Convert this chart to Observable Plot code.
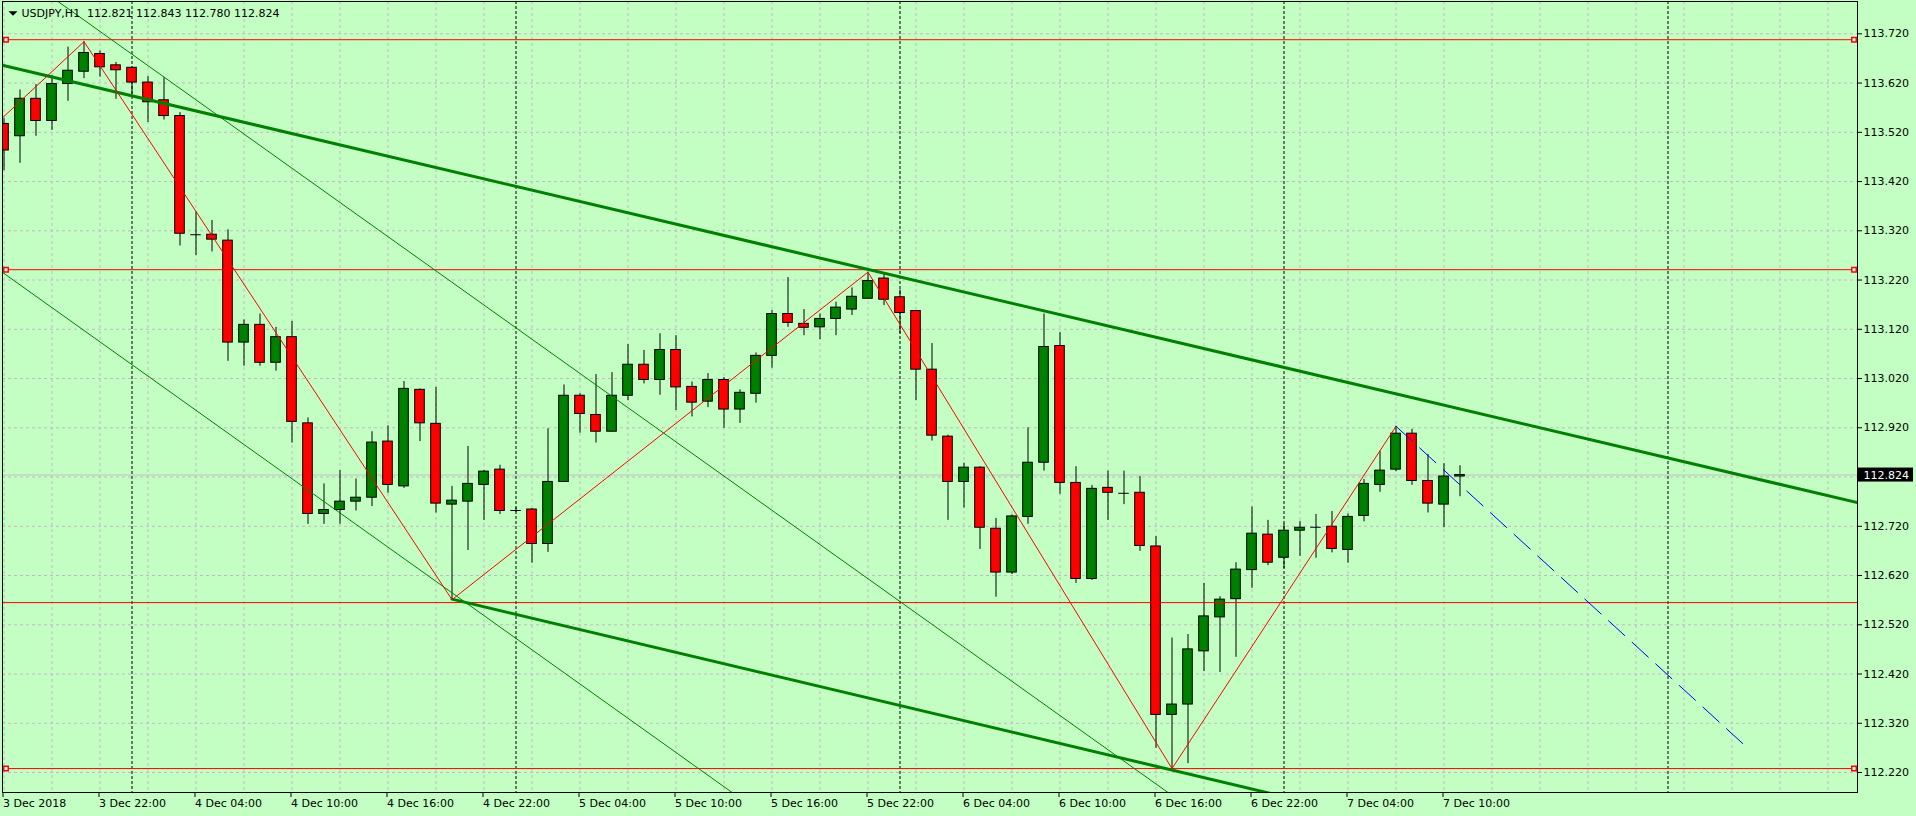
<!DOCTYPE html>
<html><head><meta charset="utf-8">
<script src="https://cdn.jsdelivr.net/npm/d3@7"></script>
<script src="https://cdn.jsdelivr.net/npm/@observablehq/plot@0.6"></script>
<style>html,body{margin:0;padding:0;background:#c3ffc3;overflow:hidden}</style>
</head><body><div id="chart"></div>
<script>
// ---- data (H1 bars, index 0 = 3 Dec 2018 16:00) ----
const opens = [113.537,113.512,113.588,113.543,113.618,113.643,113.679,113.656,113.651,113.621,113.585,113.553,113.312,113.312,113.300,113.093,113.129,113.052,113.104,112.929,
112.745,112.753,112.770,112.778,112.892,112.801,112.997,112.928,112.764,112.770,112.804,112.835,112.752,112.754,112.684,112.810,112.985,112.946,112.912,112.985,
113.048,113.017,113.078,113.003,112.973,113.017,112.957,112.989,113.066,113.151,113.131,113.124,113.141,113.160,113.182,113.223,113.185,113.157,113.038,112.902,
112.810,112.839,112.715,112.626,112.739,112.849,113.086,112.808,112.613,112.798,112.787,112.788,112.679,112.337,112.358,112.466,112.535,112.572,112.631,112.703,
112.656,112.711,112.718,112.719,112.672,112.741,112.804,112.835,112.908,112.812,112.764,112.821];
const highs = [113.548,113.606,113.617,113.635,113.693,113.704,113.685,113.662,113.652,113.633,113.631,113.560,113.358,113.341,113.322,113.139,113.151,113.124,113.136,112.940,
112.806,112.833,112.816,112.912,112.924,113.014,112.999,113.002,112.801,112.882,112.833,112.844,112.758,112.756,112.918,113.007,112.989,113.028,113.032,113.089,
113.077,113.111,113.107,113.013,113.030,113.022,112.997,113.072,113.158,113.225,113.160,113.151,113.175,113.204,113.236,113.233,113.200,113.157,113.091,112.905,
112.848,112.841,112.736,112.743,112.920,113.151,113.113,112.841,112.803,112.832,112.832,112.821,112.699,112.493,112.500,112.604,112.577,112.646,112.759,112.732,
112.725,112.730,112.744,112.750,112.745,112.815,112.872,112.923,112.917,112.866,112.847,112.843];
const lows = [113.442,113.457,113.512,113.524,113.583,113.629,113.632,113.587,113.597,113.540,113.545,113.289,113.270,113.277,113.055,113.045,113.045,113.035,112.889,112.724,
112.724,112.724,112.751,112.760,112.787,112.797,112.892,112.747,112.571,112.671,112.732,112.744,112.748,112.645,112.667,112.810,112.909,112.889,112.912,112.975,
113.009,112.986,112.955,112.942,112.961,112.919,112.929,112.970,113.041,113.124,113.107,113.099,113.107,113.148,113.182,113.168,113.111,112.975,112.893,112.732,
112.757,112.673,112.576,112.622,112.724,112.832,112.785,112.604,112.610,112.732,112.764,112.669,112.269,112.228,112.238,112.425,112.423,112.454,112.594,112.640,
112.634,112.659,112.655,112.666,112.645,112.729,112.789,112.831,112.803,112.747,112.717,112.780];
const closes = [113.483,113.588,113.543,113.618,113.645,113.681,113.652,113.646,113.621,113.581,113.553,113.314,113.312,113.302,113.093,113.129,113.052,113.104,112.932,112.745,
112.753,112.770,112.778,112.890,112.804,112.999,112.929,112.766,112.772,112.806,112.831,112.751,112.752,112.684,112.810,112.985,112.948,112.912,112.985,113.048,
113.017,113.078,113.002,112.971,113.017,112.957,112.991,113.066,113.151,113.133,113.123,113.141,113.164,113.186,113.218,113.180,113.153,113.038,112.904,112.810,
112.839,112.717,112.626,112.740,112.849,113.084,112.808,112.613,112.796,112.788,112.787,112.680,112.337,112.358,112.470,112.537,112.571,112.632,112.705,112.646,
112.711,112.717,112.718,112.674,112.739,112.806,112.833,112.908,112.812,112.766,112.821,112.824];

const yTicks = [112.22,112.32,112.42,112.52,112.62,112.72,112.82,112.92,113.02,113.12,113.22,113.32,113.42,113.52,113.62,113.72];
const xTickIdx = [0,6,12,18,24,30,36,42,48,54,60,66,72,78,84,90];
const xTickLabels = ["3 Dec 2018","3 Dec 22:00","4 Dec 04:00","4 Dec 10:00","4 Dec 16:00","4 Dec 22:00","5 Dec 04:00","5 Dec 10:00","5 Dec 16:00","5 Dec 22:00","6 Dec 04:00","6 Dec 10:00","6 Dec 16:00","6 Dec 22:00","7 Dec 04:00","7 Dec 10:00"];
const gridIdx = d3.range(0, 115, 3);
const daySeparators = [8, 32, 56, 80, 104];
const bidPrice = 112.824;
const levels = [113.708, 113.241, 112.565, 112.228];
const levelsWithHandles = [113.708, 113.241, 112.228];
const zigzag = [{i:-1,p:113.522},{i:5,p:113.704},{i:28,p:112.571},{i:54,p:113.236},{i:73,p:112.228},{i:87,p:112.923}];
const upperThick = [{i:-0.1,p:113.656},{i:115.84,p:112.768}];
const lowerThick = [{i:28,p:112.572},{i:80,p:112.171}];
const thinA = [{i:3.4,p:113.785},{i:73.5,p:112.162}];
const thinB = [{i:-0.2,p:113.238},{i:46,p:112.168}];
const blueProjection = [{i:87,p:112.923},{i:109,p:112.269}];
const titleText = "USDJPY,H1\u00a0\u00a0112.821 112.843 112.780 112.824";

// ---- styling ----
const BG = "#c3ffc3", GRID = "#c4b8c4", BULL = "#008000", BEAR = "#ff0000";
const candles = opens.map((o, k) => ({i: k, o, h: highs[k], l: lows[k], c: closes[k]}));
const bodies = candles.filter(d => d.o !== d.c);
const dojis = candles.filter(d => d.o === d.c);
const tri = {draw(ctx) { ctx.moveTo(-4.5, -2.3); ctx.lineTo(4.5, -2.3); ctx.lineTo(0, 2.3); ctx.closePath(); }};

const chart = Plot.plot({
  width: 1916, height: 816,
  marginLeft: 2, marginRight: 59, marginTop: 1, marginBottom: 24,
  x: {domain: [-0.09375, 115.84375], axis: null},
  y: {domain: [112.1794, 113.7856], axis: null},
  style: {background: BG, fontFamily: "DejaVu Sans", fontSize: "11px", color: "black"},
  marks: [
    Plot.ruleY(yTicks, {stroke: GRID, strokeDasharray: "3,3"}),
    Plot.ruleX(gridIdx, {stroke: GRID, strokeDasharray: "3,3"}),
    Plot.ruleX(daySeparators, {stroke: "black", strokeDasharray: "3,2"}),
    Plot.ruleY([bidPrice], {stroke: "#c0c0c0"}),
    Plot.ruleX(candles, {x: "i", y1: "l", y2: "h", stroke: "black", clip: true}),
    Plot.rect(bodies.filter(d => d.c > d.o), {x1: d => d.i - 0.3, x2: d => d.i + 0.3, y1: "o", y2: "c", fill: BULL, stroke: "black", clip: true}),
    Plot.rect(bodies.filter(d => d.c < d.o), {x1: d => d.i - 0.3, x2: d => d.i + 0.3, y1: "o", y2: "c", fill: BEAR, stroke: "black", clip: true}),
    Plot.ruleY(dojis, {y: "o", x1: d => d.i - 0.33, x2: d => d.i + 0.33, stroke: "black", clip: true}),
    Plot.ruleY(levels, {stroke: "red"}),
    Plot.line(thinA, {x: "i", y: "p", stroke: "#008000", strokeWidth: 1, clip: true}),
    Plot.line(thinB, {x: "i", y: "p", stroke: "#008000", strokeWidth: 1, clip: true}),
    Plot.line(upperThick, {x: "i", y: "p", stroke: "#008000", strokeWidth: 3, clip: true}),
    Plot.line(lowerThick, {x: "i", y: "p", stroke: "#008000", strokeWidth: 3, clip: true}),
    Plot.line(zigzag, {x: "i", y: "p", stroke: "red", strokeWidth: 1, clip: true}),
    Plot.line(blueProjection, {x: "i", y: "p", stroke: "blue", strokeWidth: 1, strokeDasharray: "22,10", clip: true}),
    Plot.dot(levelsWithHandles, {y: d => d, frameAnchor: "left", dx: 3.5, symbol: "square", r: 2.5, fill: "white", stroke: "red"}),
    Plot.dot(levelsWithHandles, {y: d => d, frameAnchor: "right", dx: -3.5, symbol: "square", r: 2.5, fill: "white", stroke: "red"}),
    Plot.frame({stroke: "black"}),
    Plot.axisY(yTicks, {anchor: "right", tickSize: 4, tickPadding: 2, tickFormat: d3.format(".3f"), fontSize: 11, label: null}),
    Plot.axisX(xTickIdx, {anchor: "bottom", tickSize: 5, tickPadding: 2, textAnchor: "start", dx: -1, fontSize: 11, label: null,
      tickFormat: d => xTickLabels[xTickIdx.indexOf(d)]}),
    Plot.dot([0], {frameAnchor: "top-left", dx: 10.5, dy: 12, symbol: tri, r: 3, fill: "black", stroke: null}),
    Plot.text([titleText], {frameAnchor: "top-left", dx: 19, dy: 7.3, textAnchor: "start", lineAnchor: "top", fontSize: 11, fill: "black"}),
    Plot.text([bidPrice], {y: d => d, frameAnchor: "right", dx: 6, textAnchor: "start", fontSize: 11, fill: "white", text: d => d3.format(".3f")(d)})
  ]
});
document.getElementById("chart").appendChild(chart);
// black box behind the current-price label
const y0 = chart.scale("y").apply(bidPrice);
const box = document.createElementNS("http://www.w3.org/2000/svg", "rect");
box.setAttribute("x", 1858); box.setAttribute("y", y0 - 7);
box.setAttribute("width", 55); box.setAttribute("height", 14);
box.setAttribute("fill", "black");
chart.insertBefore(box, chart.lastChild);
</script></body></html>
